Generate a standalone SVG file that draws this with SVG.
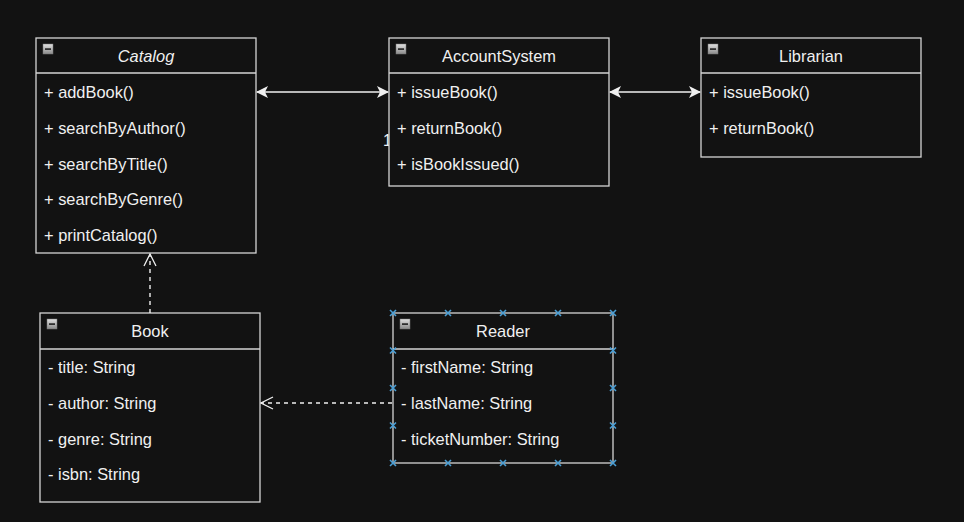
<svg xmlns="http://www.w3.org/2000/svg" width="964" height="522" viewBox="0 0 964 522">
<defs>
<linearGradient id="ig" x1="0" y1="0" x2="0" y2="1"><stop offset="0" stop-color="#e0e0e0"/><stop offset="1" stop-color="#8a8a8a"/></linearGradient>
<g id="icon"><rect x="0" y="0" width="10" height="10" fill="url(#ig)" stroke="#777" stroke-width="0.5"/><rect x="2" y="4.3" width="6" height="1.6" fill="#222"/></g>
<marker id="fill" viewBox="0 0 12 12" refX="11" refY="6" markerWidth="12" markerHeight="12" markerUnits="userSpaceOnUse" orient="auto-start-reverse"><path d="M0,0 L12,6 L0,12 L3,6 Z" fill="#f0f0f0"/></marker>
<marker id="open" viewBox="0 0 14 14" refX="13" refY="7" markerWidth="14" markerHeight="14" markerUnits="userSpaceOnUse" orient="auto"><path d="M1,1 L13,7 L1,13" fill="none" stroke="#f0f0f0" stroke-width="1.3"/></marker>
<g id="x"><path d="M-3,-3 L3,3 M-3,3 L3,-3" stroke="#4a9fd6" stroke-width="1.6"/></g>
</defs>
<style>
.box{fill:#121212;stroke:#d4d4d4;stroke-width:1.3}
.sep{stroke:#d4d4d4;stroke-width:1.3}
text{font-family:"Liberation Sans",Arial,sans-serif;font-size:16.4px;fill:#f0f0f0}
.h{text-anchor:middle}
.conn{stroke:#f0f0f0;stroke-width:1.4;fill:none}
.dash{stroke-dasharray:4 4}
</style>
<rect width="964" height="522" fill="#121212"/>
<text x="383" y="146" style="font-size:16px">1</text>
<g id="catalog">
<rect class="box" x="36" y="38" width="220" height="215"/>
<line class="sep" x1="36" y1="73" x2="256" y2="73"/>
<use href="#icon" x="43" y="44"/>
<text class="h" x="146" y="62" font-style="italic">Catalog</text>
<text x="44" y="98">+ addBook()</text>
<text x="44" y="134">+ searchByAuthor()</text>
<text x="44" y="170">+ searchByTitle()</text>
<text x="44" y="205">+ searchByGenre()</text>
<text x="44" y="241">+ printCatalog()</text>
</g>
<g id="accountsystem">
<rect class="box" x="389" y="38" width="220" height="148"/>
<line class="sep" x1="389" y1="73" x2="609" y2="73"/>
<use href="#icon" x="396" y="44"/>
<text class="h" x="499" y="62">AccountSystem</text>
<text x="397" y="98">+ issueBook()</text>
<text x="397" y="134">+ returnBook()</text>
<text x="397" y="170">+ isBookIssued()</text>
</g>
<g id="librarian">
<rect class="box" x="701" y="38" width="220" height="119"/>
<line class="sep" x1="701" y1="73" x2="921" y2="73"/>
<use href="#icon" x="708" y="44"/>
<text class="h" x="811" y="62">Librarian</text>
<text x="709" y="98">+ issueBook()</text>
<text x="709" y="134">+ returnBook()</text>
</g>
<g id="book">
<rect class="box" x="40" y="313" width="220" height="189"/>
<line class="sep" x1="40" y1="349" x2="260" y2="349"/>
<use href="#icon" x="47" y="319"/>
<text class="h" x="150" y="337">Book</text>
<text x="48" y="373">- title: String</text>
<text x="48" y="409">- author: String</text>
<text x="48" y="445">- genre: String</text>
<text x="48" y="480">- isbn: String</text>
</g>
<g id="reader">
<rect class="box" x="393" y="313" width="220" height="150"/>
<line class="sep" x1="393" y1="349" x2="613" y2="349"/>
<use href="#icon" x="400" y="319"/>
<text class="h" x="503" y="337">Reader</text>
<text x="401" y="373">- firstName: String</text>
<text x="401" y="409">- lastName: String</text>
<text x="401" y="445">- ticketNumber: String</text>
<use href="#x" x="393" y="313"/><use href="#x" x="448" y="313"/><use href="#x" x="503" y="313"/><use href="#x" x="558" y="313"/><use href="#x" x="613" y="313"/>
<use href="#x" x="393" y="463"/><use href="#x" x="448" y="463"/><use href="#x" x="503" y="463"/><use href="#x" x="558" y="463"/><use href="#x" x="613" y="463"/>
<use href="#x" x="393" y="350.5"/><use href="#x" x="393" y="388"/><use href="#x" x="393" y="425.5"/>
<use href="#x" x="613" y="350.5"/><use href="#x" x="613" y="388"/><use href="#x" x="613" y="425.5"/>
</g>
<g id="connectors">
<line class="conn" x1="257" y1="92" x2="388" y2="92" marker-start="url(#fill)" marker-end="url(#fill)"/>
<line class="conn" x1="610" y1="92" x2="700" y2="92" marker-start="url(#fill)" marker-end="url(#fill)"/>
<line class="conn dash" x1="150" y1="313" x2="150" y2="254" marker-end="url(#open)"/>
<line class="conn dash" x1="392" y1="403" x2="261" y2="403" marker-end="url(#open)"/>
</g>
</svg>
